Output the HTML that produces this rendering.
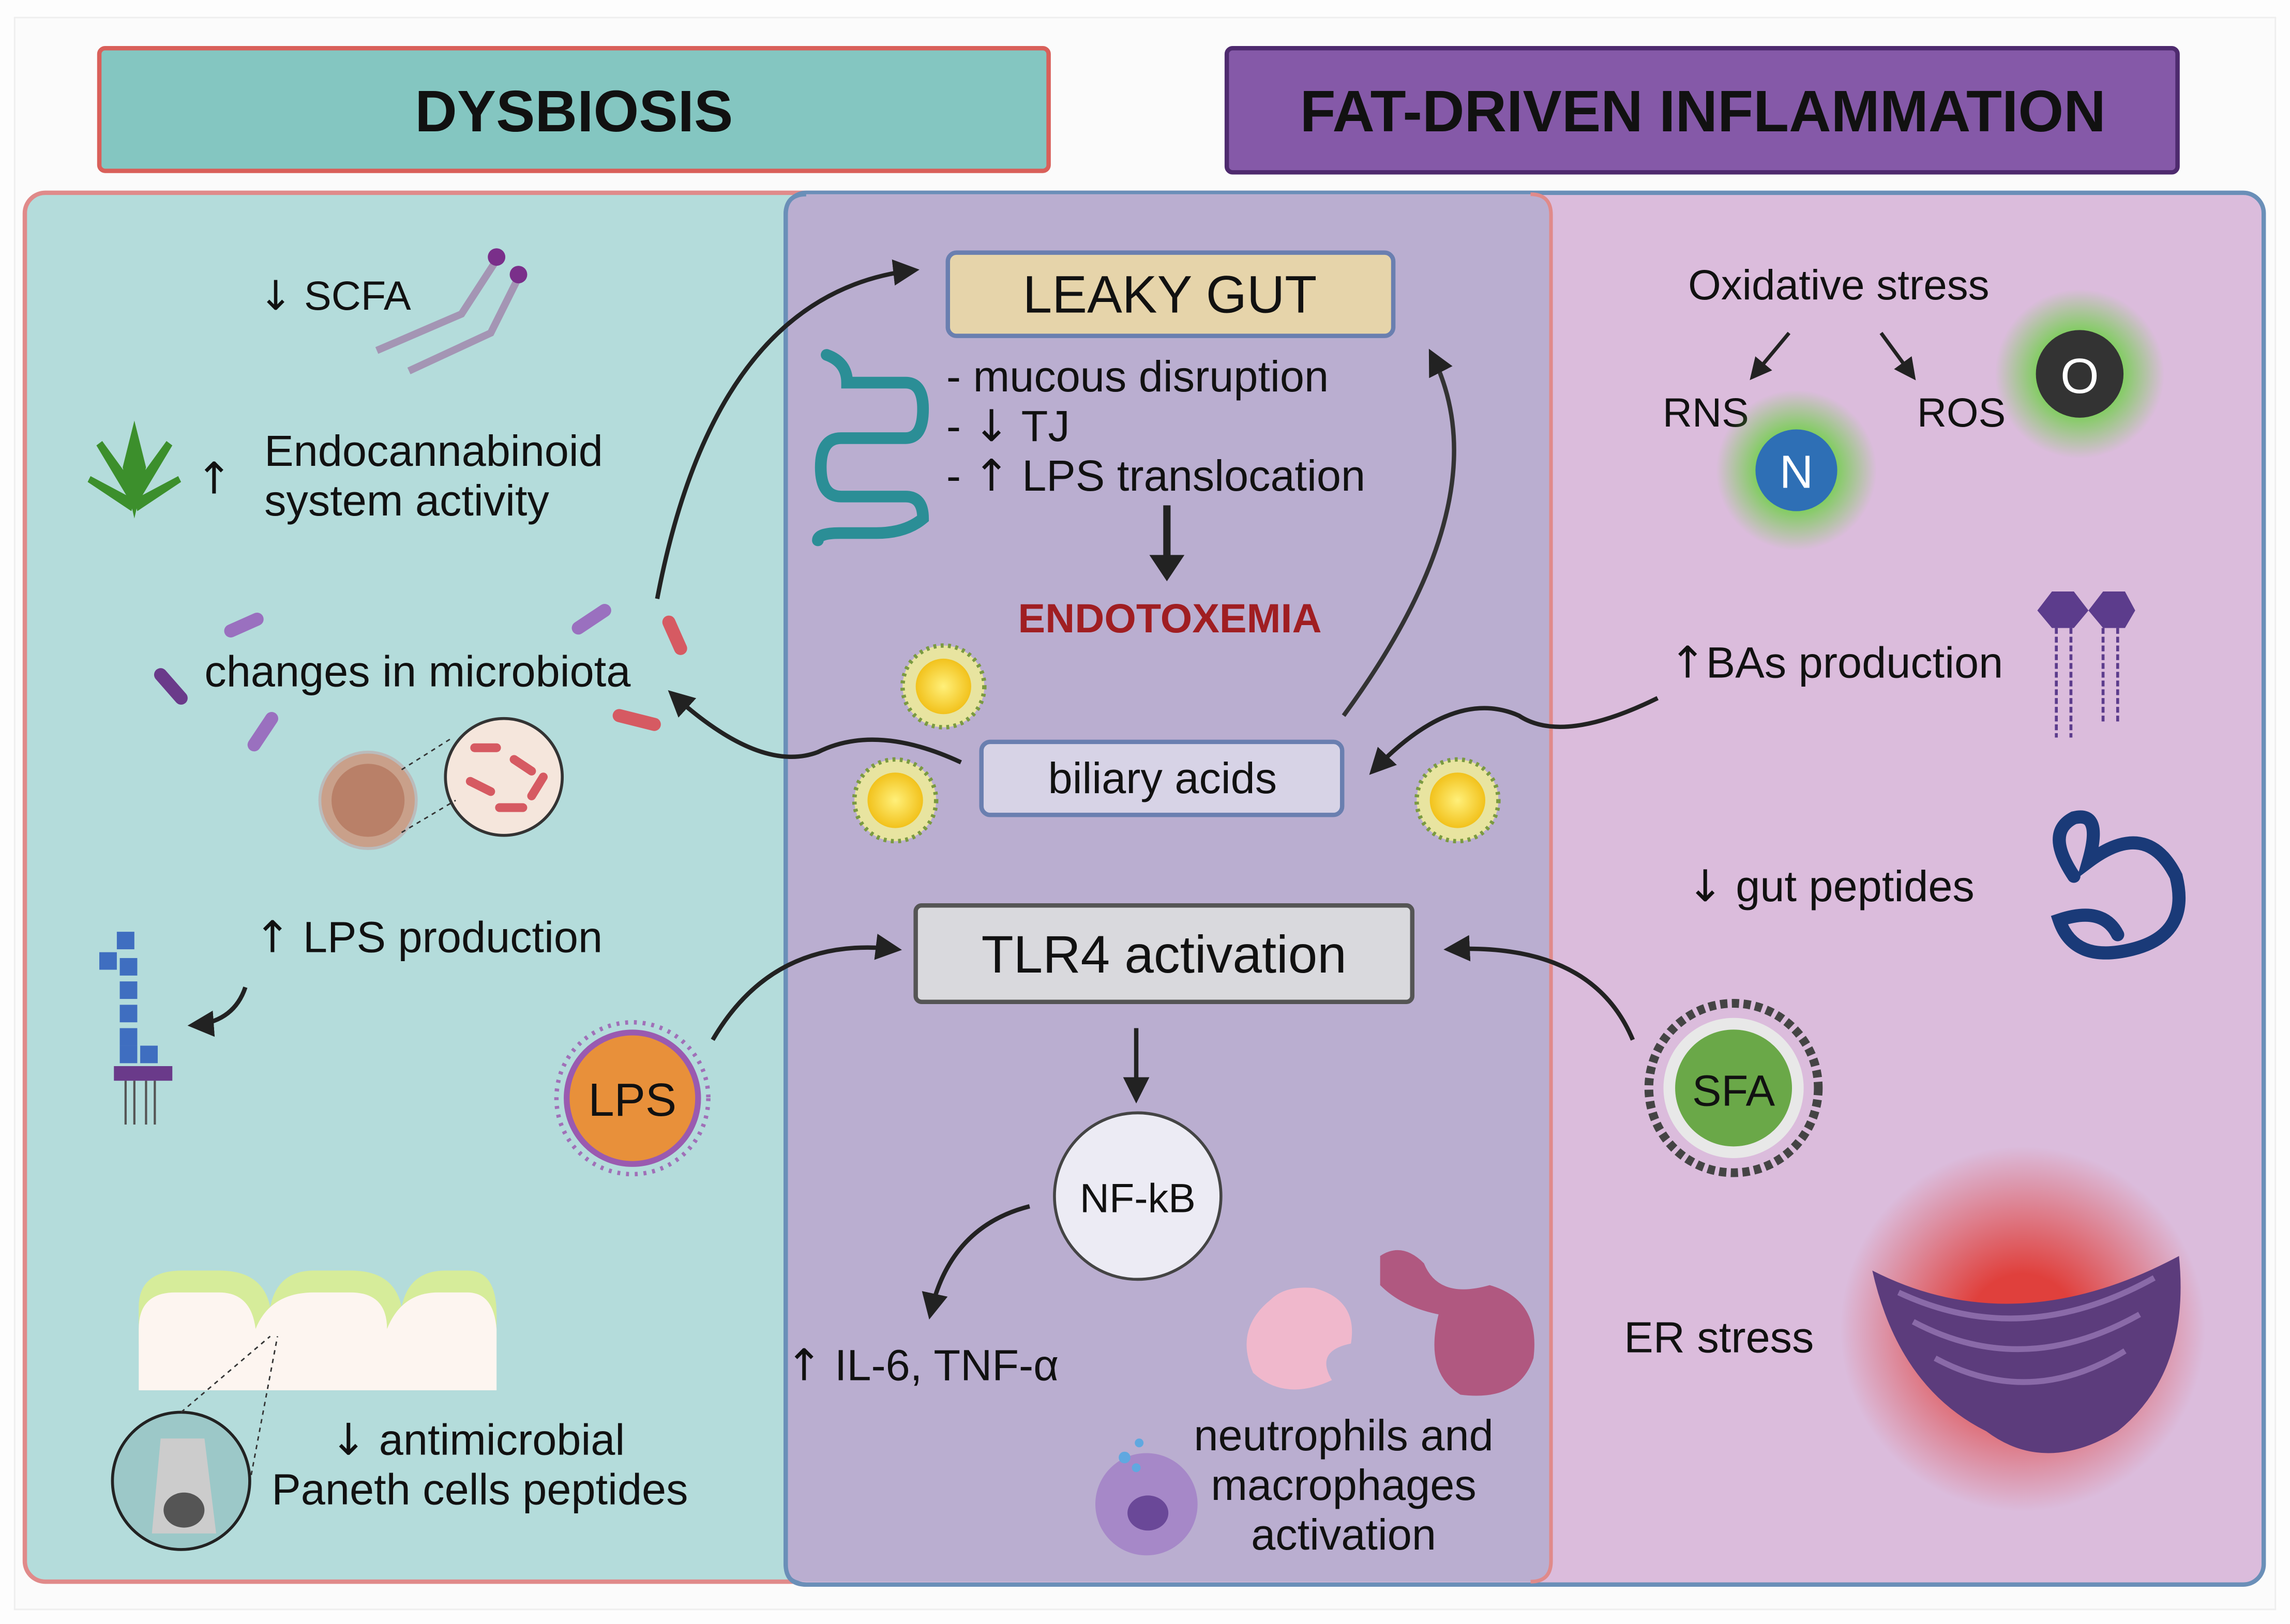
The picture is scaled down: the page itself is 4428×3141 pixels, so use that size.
<!DOCTYPE html>
<html><head><meta charset="utf-8"><style>
html,body{margin:0;padding:0;background:#fff}
svg{display:block}
text{font-family:"Liberation Sans",sans-serif;fill:#111}
.ar{font-family:"DejaVu Sans",sans-serif}
</style></head><body>
<svg width="4428" height="3141" viewBox="0 0 1568 1112" preserveAspectRatio="none" xmlns="http://www.w3.org/2000/svg">
<defs>
<marker id="ah" viewBox="0 0 10 10" refX="8" refY="5" markerWidth="6" markerHeight="6" orient="auto"><path d="M0,0 L10,5 L0,10 Z" fill="#222"/></marker>
<radialGradient id="glow"><stop offset="0.4" stop-color="#6fd048"/><stop offset="1" stop-color="#6fd048" stop-opacity="0"/></radialGradient>
<radialGradient id="red"><stop offset="0.3" stop-color="#e0403c"/><stop offset="1" stop-color="#e0403c" stop-opacity="0"/></radialGradient>
<radialGradient id="yel"><stop offset="0" stop-color="#fff07a"/><stop offset="1" stop-color="#f2c21c"/></radialGradient>
</defs>
<rect x="0" y="0" width="1568" height="1112" fill="#fdfdfd"/>
<rect x="10" y="12" width="1548" height="1090" fill="#fbfbfb" stroke="#eee"/>
<rect x="68" y="33" width="650" height="84" rx="4" fill="#84c6c1" stroke="#d9605a" stroke-width="3"/>
<text x="393" y="90" font-size="40" font-weight="bold" text-anchor="middle">DYSBIOSIS</text>
<rect x="840" y="33" width="651" height="85" rx="4" fill="#8559a8" stroke="#4e2a6e" stroke-width="3"/>
<text x="1166" y="90" font-size="40" font-weight="bold" text-anchor="middle">FAT-DRIVEN INFLAMMATION</text>
<rect x="17" y="132" width="1045" height="951" rx="14" fill="#b4dcdb" stroke="#e08a8a" stroke-width="3"/>
<rect x="538" y="132" width="1012" height="953" rx="14" fill="#dbbcdc" stroke="#6a8fb8" stroke-width="3"/>
<path d="M552,133 H1048 Q1062,133 1062,147 V1069 Q1062,1083 1048,1083 H552 Q538,1083 538,1069 V147 Q538,133 552,133 Z" fill="#baaed0"/>
<path d="M1048,133 Q1062,133 1062,147 V1069 Q1062,1083 1048,1083" fill="none" stroke="#e08a8a" stroke-width="2.5"/>
<path d="M552,1085 Q538,1085 538,1071 V147 Q538,133 552,133" fill="none" stroke="#6a8fb8" stroke-width="3"/>

<text x="177" y="212" font-size="28"><tspan class="ar">↓</tspan> SCFA</text>
<path d="M258,240 L316,215 L340,178 M280,254 L336,228 L355,190" stroke="#a495b4" stroke-width="5" fill="none"/>
<circle cx="340" cy="176" r="6" fill="#7a2f8a"/><circle cx="355" cy="188" r="6" fill="#7a2f8a"/>
<g fill="#3c8f2c">
<path d="M92,355 L84,320 L92,288 L100,320 Z"/>
<path d="M90,345 L66,305 L70,302 L94,335 Z"/>
<path d="M94,345 L118,305 L114,302 L90,335 Z"/>
<path d="M90,350 L60,330 L62,326 L92,342 Z"/>
<path d="M94,350 L124,330 L122,326 L92,342 Z"/>
</g>
<text x="134" y="338" font-size="30" class="ar">↑</text>
<text x="181" y="319" font-size="30">Endocannabinoid</text>
<text x="181" y="353" font-size="30">system activity</text>
<text x="140" y="470" font-size="30">changes in microbiota</text>
<g stroke-linecap="round" stroke-width="9">
<line x1="158" y1="432" x2="176" y2="424" stroke="#9a70bf"/>
<line x1="110" y1="462" x2="124" y2="478" stroke="#6a3a8a"/>
<line x1="174" y1="510" x2="186" y2="492" stroke="#9a70bf"/>
<line x1="396" y1="430" x2="414" y2="418" stroke="#9a70bf"/>
<line x1="458" y1="426" x2="466" y2="444" stroke="#d65a62"/>
<line x1="424" y1="490" x2="448" y2="496" stroke="#d65a62"/>
</g>
<circle cx="252" cy="548" r="33" fill="#c9a08a" stroke="#bbb" stroke-width="2"/>
<circle cx="252" cy="548" r="25" fill="#b98068"/>
<circle cx="345" cy="532" r="40" fill="#f5e6dc" stroke="#333" stroke-width="2"/>
<g stroke="#d65a62" stroke-width="6" stroke-linecap="round"><line x1="325" y1="512" x2="340" y2="512"/><line x1="352" y1="520" x2="364" y2="528"/><line x1="322" y1="535" x2="336" y2="542"/><line x1="342" y1="553" x2="358" y2="553"/><line x1="364" y1="545" x2="372" y2="532"/></g>
<path d="M275,527 L310,505 M275,570 L312,548" stroke="#333" stroke-dasharray="3,3"/>
<text x="174" y="652" font-size="30"><tspan class="ar">↑</tspan> LPS production</text>
<path d="M168,676 Q160,700 132,702" stroke="#222" stroke-width="3" fill="none" marker-end="url(#ah)"/>
<g fill="#3f6ec0"><rect x="80" y="638" width="12" height="12"/><rect x="68" y="652" width="12" height="12"/><rect x="82" y="656" width="12" height="12"/><rect x="82" y="672" width="12" height="12"/><rect x="82" y="688" width="12" height="12"/><rect x="82" y="704" width="12" height="12"/><rect x="96" y="716" width="12" height="12"/><rect x="82" y="716" width="12" height="12"/></g>
<rect x="78" y="730" width="40" height="10" fill="#6a3a8a"/>
<path d="M86,740 v30 M92,740 v30 M100,740 v30 M106,740 v30" stroke="#555" stroke-width="1.5"/>
<circle cx="433" cy="752" r="52" fill="none" stroke="#a070b8" stroke-width="3" stroke-dasharray="2,4"/>
<circle cx="433" cy="752" r="45" fill="#e8903a" stroke="#9a5ab0" stroke-width="4"/>
<text x="433" y="764" font-size="32" text-anchor="middle">LPS</text>
<path d="M95,920 V895 Q95,870 125,870 H150 Q180,870 185,895 Q190,870 215,870 H240 Q270,870 275,895 Q280,870 305,870 H320 Q340,870 340,900 V920 Z" fill="#d6ec9a"/>
<path d="M95,952 V910 Q95,885 120,885 H150 Q172,885 175,910 Q185,885 215,885 H240 Q265,885 265,910 Q275,885 300,885 H320 Q338,885 340,910 V952 Z" fill="#fdf5f0"/>
<circle cx="124" cy="1014" r="47" fill="#9cc8c8" stroke="#222" stroke-width="2"/>
<path d="M104,1050 L110,985 H140 L148,1050 Z" fill="#ccc"/>
<ellipse cx="126" cy="1034" rx="14" ry="12" fill="#555"/>
<path d="M124,967 L185,915 M172,1010 L190,915" stroke="#333" stroke-dasharray="3,3"/>
<text x="226" y="996" font-size="30"><tspan class="ar">↓</tspan> antimicrobial</text>
<text x="186" y="1030" font-size="30">Paneth cells peptides</text>

<rect x="649" y="173" width="305" height="57" rx="6" fill="#e6d4aa" stroke="#6a7fb0" stroke-width="3"/>
<text x="801" y="214" font-size="36" text-anchor="middle">LEAKY GUT</text>
<path d="M566,243 Q580,248 580,262 H620 Q632,262 632,280 Q632,300 620,300 H576 Q562,300 562,320 Q562,340 576,340 H620 Q632,340 632,355 Q620,365 600,365 H575 Q560,365 560,370" stroke="#2b8e96" stroke-width="8" fill="none" stroke-linecap="round"/>
<text x="648" y="268" font-size="30">- mucous disruption</text>
<text x="648" y="302" font-size="30">- <tspan class="ar">↓</tspan> TJ</text>
<text x="648" y="336" font-size="30">- <tspan class="ar">↑</tspan> LPS translocation</text>
<path d="M799,346 V385" stroke="#222" stroke-width="5"/><path d="M787,380 L811,380 L799,398 Z" fill="#222"/>
<text x="801" y="433" font-size="28" font-weight="bold" text-anchor="middle" style="fill:#a01e22">ENDOTOXEMIA</text>
<path d="M450,410 Q490,200 626,185" stroke="#222" stroke-width="3" fill="none" marker-end="url(#ah)"/>
<path d="M920,490 Q1030,340 980,242" stroke="#333" stroke-width="3" fill="none" marker-end="url(#ah)"/>
<g><circle cx="646" cy="470" r="28" fill="#e8e4a0" stroke="#7a9a40" stroke-dasharray="2,3" stroke-width="3"/><circle cx="646" cy="470" r="19" fill="url(#yel)"/></g>
<g><circle cx="613" cy="548" r="28" fill="#e8e4a0" stroke="#7a9a40" stroke-dasharray="2,3" stroke-width="3"/><circle cx="613" cy="548" r="19" fill="url(#yel)"/></g>
<g><circle cx="998" cy="548" r="28" fill="#e8e4a0" stroke="#7a9a40" stroke-dasharray="2,3" stroke-width="3"/><circle cx="998" cy="548" r="19" fill="url(#yel)"/></g>
<rect x="672" y="508" width="247" height="50" rx="6" fill="#d7d3e6" stroke="#6a7fb0" stroke-width="3"/>
<text x="796" y="543" font-size="30" text-anchor="middle">biliary acids</text>
<path d="M658,522 Q600,495 560,515 Q520,530 460,475" stroke="#222" stroke-width="3" fill="none" marker-end="url(#ah)"/>
<path d="M1135,478 Q1070,510 1040,490 Q995,470 940,528" stroke="#222" stroke-width="3" fill="none" marker-end="url(#ah)"/>
<rect x="627" y="620" width="340" height="66" rx="4" fill="#d9d9dd" stroke="#555" stroke-width="3"/>
<text x="797" y="666" font-size="36" text-anchor="middle">TLR4 activation</text>
<path d="M488,712 Q530,640 614,650" stroke="#222" stroke-width="3" fill="none" marker-end="url(#ah)"/>
<path d="M1118,712 Q1090,645 992,650" stroke="#222" stroke-width="3" fill="none" marker-end="url(#ah)"/>
<path d="M778,704 V752" stroke="#222" stroke-width="3" marker-end="url(#ah)"/>
<circle cx="779" cy="819" r="57" fill="#ecebf4" stroke="#444" stroke-width="2"/>
<text x="779" y="830" font-size="28" text-anchor="middle">NF-kB</text>
<path d="M705,826 Q650,840 637,900" stroke="#222" stroke-width="3" fill="none" marker-end="url(#ah)"/>
<text x="538" y="945" font-size="30"><tspan class="ar">↑</tspan> IL-6, TNF-α</text>
<path d="M870,890 Q880,880 900,882 Q930,890 925,920 Q900,925 912,945 Q880,960 858,940 Q845,910 870,890 Z" fill="#f0b8cc"/>
<path d="M945,860 Q960,850 975,865 Q985,890 1020,880 Q1055,890 1050,930 Q1040,960 1000,955 Q975,940 985,900 Q960,895 945,880 Z" fill="#b05880"/>
<ellipse cx="785" cy="1030" rx="35" ry="35" fill="#a688c8"/><ellipse cx="786" cy="1036" rx="14" ry="12" fill="#6a4898"/>
<circle cx="770" cy="998" r="4" fill="#60a8e0"/><circle cx="780" cy="988" r="3" fill="#60a8e0"/><circle cx="778" cy="1005" r="3" fill="#60a8e0"/>
<text x="920" y="993" font-size="30" text-anchor="middle">neutrophils and</text>
<text x="920" y="1027" font-size="30" text-anchor="middle">macrophages</text>
<text x="920" y="1061" font-size="30" text-anchor="middle">activation</text>

<text x="1259" y="205" font-size="29" text-anchor="middle">Oxidative stress</text>
<path d="M1225,228 L1200,258" stroke="#222" stroke-width="2.5" marker-end="url(#ah)"/>
<path d="M1288,228 L1310,258" stroke="#222" stroke-width="2.5" marker-end="url(#ah)"/>
<text x="1168" y="292" font-size="28" text-anchor="middle">RNS</text>
<text x="1343" y="292" font-size="28" text-anchor="middle">ROS</text>
<circle cx="1230" cy="322" r="55" fill="url(#glow)"/>
<circle cx="1230" cy="322" r="28" fill="#2e6fb5"/>
<text x="1230" y="334" font-size="32" text-anchor="middle" style="fill:#fff">N</text>
<circle cx="1424" cy="256" r="58" fill="url(#glow)"/>
<circle cx="1424" cy="256" r="30" fill="#333"/>
<text x="1424" y="269" font-size="34" text-anchor="middle" style="fill:#fff">O</text>
<text x="1143" y="464" font-size="30"><tspan class="ar">↑</tspan>BAs production</text>
<path d="M1395,418 L1405,405 H1420 L1430,418 L1420,430 H1405 Z M1430,418 L1440,405 H1455 L1462,418 L1455,430 H1440 Z" fill="#5c3c8c"/>
<path d="M1408,430 V505 M1418,430 V505 M1440,430 V495 M1450,430 V495" stroke="#5c3c8c" stroke-width="2" stroke-dasharray="4,2"/>
<text x="1155" y="617" font-size="30"><tspan class="ar">↓</tspan> gut peptides</text>
<path d="M1420,600 Q1400,570 1420,560 Q1440,555 1430,590 Q1470,560 1490,600 Q1500,640 1460,650 Q1420,660 1410,630 Q1440,620 1450,640" stroke="#1a3a78" stroke-width="9" fill="none" stroke-linecap="round"/>
<circle cx="1187" cy="745" r="58" fill="none" stroke="#444" stroke-width="6" stroke-dasharray="5,3"/>
<circle cx="1187" cy="745" r="48" fill="#e8e8e8"/>
<circle cx="1187" cy="745" r="40" fill="#6aa848"/>
<text x="1187" y="757" font-size="30" text-anchor="middle">SFA</text>
<text x="1112" y="926" font-size="30">ER stress</text>
<circle cx="1385" cy="910" r="125" fill="url(#red)"/>
<path d="M1282,870 Q1380,920 1492,860 Q1500,940 1450,980 Q1400,1010 1360,980 Q1300,950 1282,870 Z" fill="#5c3c7c"/>
<path d="M1300,885 Q1385,925 1475,875 M1310,905 Q1385,945 1465,900 M1325,930 Q1390,965 1455,925" stroke="#8a6aa8" stroke-width="4" fill="none"/>
</svg>
</body></html>
